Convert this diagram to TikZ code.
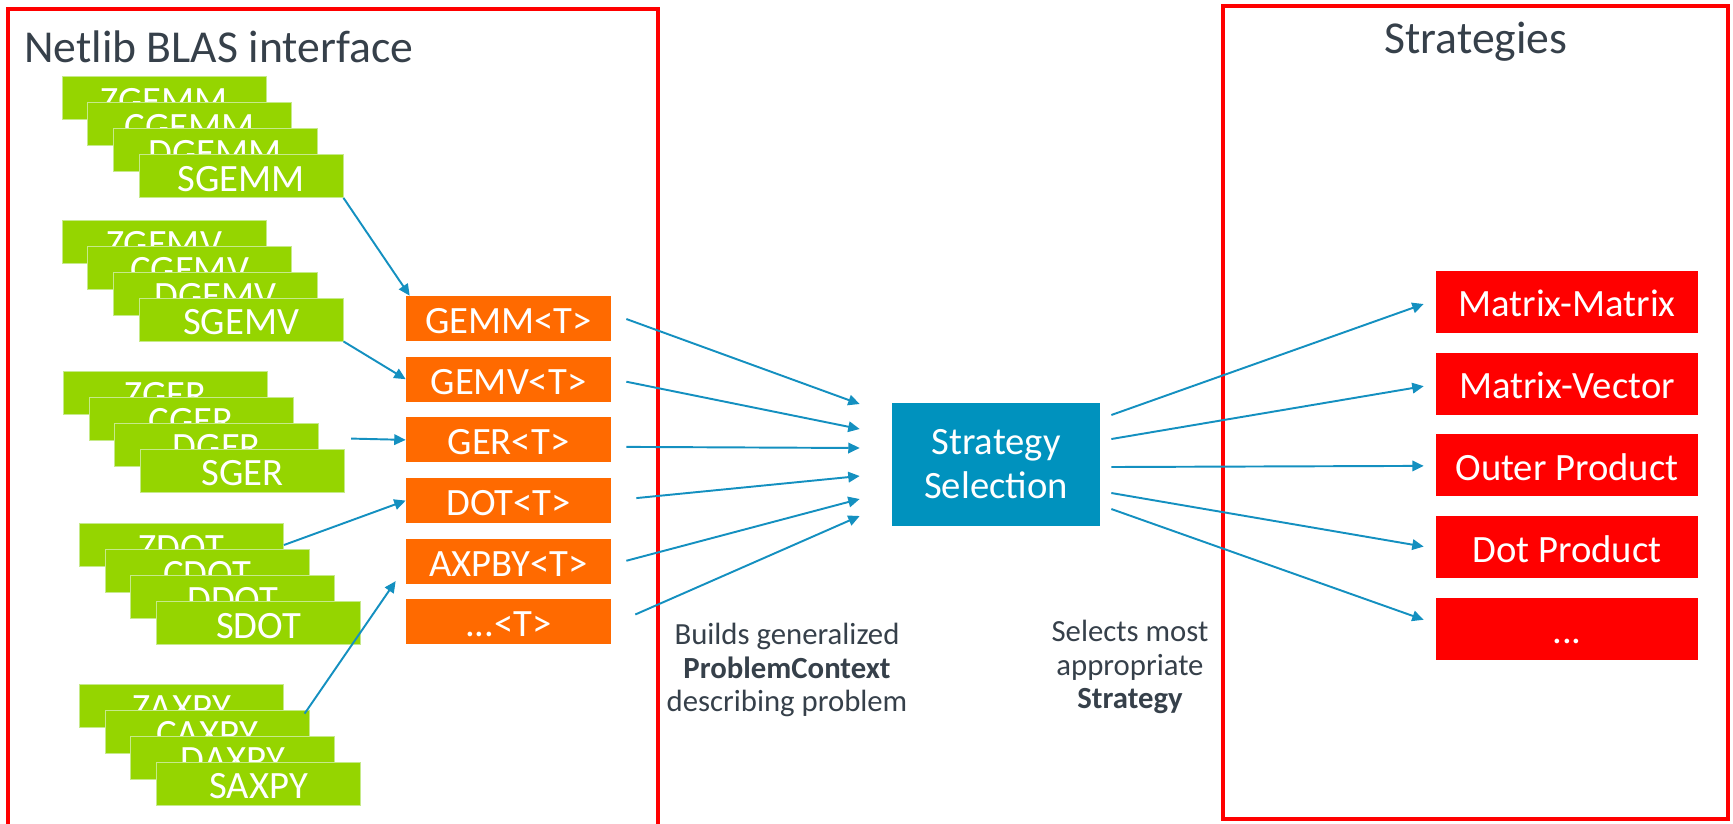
\documentclass[tikz,border=0pt]{standalone}
\usepackage{fontspec}
\setmainfont{Carlito}
\usetikzlibrary{positioning,calc,arrows.meta}
\definecolor{blasgreen}{HTML}{95D500}
\definecolor{blasedge}{HTML}{C6EA8A}
\definecolor{tmplorange}{HTML}{FF6A00}
\definecolor{selblue}{HTML}{0092BE}
\definecolor{stratred}{HTML}{FF0000}
\definecolor{flowblue}{HTML}{1490C0}
\definecolor{textgray}{HTML}{36404A}
\tikzset{blas/.style={rectangle,fill=blasgreen,draw=blasedge,line width=0.5pt,text=white,minimum width=4.08cm,minimum height=0.86cm,inner sep=0pt,text height=17.5pt,text depth=0pt,font=\fontsize{22}{26}\selectfont}}
\tikzset{tmpl/.style={rectangle,fill=tmplorange,text=white,minimum width=4.1cm,minimum height=0.9cm,inner sep=0pt,text height=17pt,text depth=0pt,font=\fontsize{22}{26}\selectfont}}
\tikzset{selbox/.style={rectangle,fill=selblue,text=white,minimum width=4.16cm,minimum height=2.46cm,align=center,font=\fontsize{22}{25.5}\selectfont}}
\tikzset{strat/.style={rectangle,fill=stratred,text=white,minimum width=5.24cm,minimum height=1.24cm,inner sep=0pt,text height=17pt,text depth=0pt,font=\fontsize{22}{26}\selectfont}}
\tikzset{groupframe/.style={draw=stratred,line width=2.3pt}}
\tikzset{flow/.style={draw=flowblue,line width=1.1pt,-{Triangle[length=6.5pt,width=6pt]}}}
\tikzset{note/.style={text=textgray,align=center,font=\fontsize{17.5}{19}\selectfont}}

\begin{document}
\begin{tikzpicture}[x=0.02cm,y=-0.02cm]
                \useasboundingbox (0,0) rectangle (1733,823);
                \draw[groupframe] (8,9) rectangle (658,840);
                \draw[groupframe] (1223,6) rectangle (1728,819);
                \node[anchor=base west,inner sep=0pt,text=textgray,font=\fontsize{26}{31}\selectfont] (blastitle) at (24,62) {Netlib BLAS interface};
                \node[anchor=base,inner sep=0pt,text=textgray,font=\fontsize{26}{31}\selectfont] (strattitle) at (1476,53) {Strategies};

                % netlib routines, stacked per precision
                \foreach \op/\bx/\by in {GEMM/164/98,GEMV/164/241.5,GER/165.5/392.5,DOT/181.5/545,AXPY/181.5/705.5}{\foreach \p [count=\i from 0] in {Z,C,D,S}\node[blas] (\p\op) at (\bx+\i*25.7,\by+\i*26){\p\op};}

                % generic templates
                \node[tmpl] (gemm) at (508.5,318.5) {GEMM<T>};
                \node[tmpl,below=0.3cm of gemm] (gemv) {GEMV<T>};
                \node[tmpl,below=0.3cm of gemv] (ger) {GER<T>};
                \node[tmpl,below=0.3cm of ger] (dot) {DOT<T>};
                \node[tmpl,below=0.3cm of dot] (axpby) {AXPBY<T>};
                \node[tmpl,below=0.3cm of axpby] (etc) {...<T>};

                \node[selbox] (sel) at (996,464) {Strategy\\Selection};

                % strategies
                \node[strat] (mm) at (1567,302) {Matrix-Matrix};
                \node[strat,below=0.38cm of mm] (mv) {Matrix-Vector};
                \node[strat,below=0.38cm of mv] (op) {Outer Product};
                \node[strat,below=0.38cm of op] (dp) {Dot Product};
                \node[strat,below=0.38cm of dp] (more) {...};

                \draw[flow] (SGEMM.south east) -- ($(gemm.north west)+(4,0)$);
                \draw[flow] (SGEMV.south east) -- (gemv.west);
                \draw[flow] ($(SGER.north east)+(6,-10)$) -- (ger.west);
                \draw[flow] (ZDOT.east) -- (dot.west);
                \draw[flow] ($(CAXPY.north east)+(-5,4)$) -- ($(axpby.south west)+(-10,-3)$);

                \draw[flow] ($(gemm.east)+(15,0.5)$) -- ($(sel.west)+(-32,-60)$);
                \draw[flow] ($(gemv.east)+(15,2.5)$) -- ($(sel.west)+(-32,-35)$);
                \draw[flow] ($(ger.east)+(15,7)$) -- ($(sel.west)+(-32,-16)$);
                \draw[flow] ($(dot.east)+(25,-2.5)$) -- ($(sel.west)+(-32,12)$);
                \draw[flow] ($(axpby.east)+(15,-0.5)$) -- ($(sel.west)+(-32,35)$);
                \draw[flow] ($(etc.east)+(24,-7.5)$) -- ($(sel.west)+(-32,52)$);

                \draw[flow] ($(sel.east)+(11,-49)$) -- ($(mm.west)+(-12,2)$);
                \draw[flow] ($(sel.east)+(11,-25)$) -- ($(mv.west)+(-12,2.5)$);
                \draw[flow] ($(sel.east)+(11,3)$) -- ($(op.west)+(-12,0.5)$);
                \draw[flow] ($(sel.east)+(11,29)$) -- ($(dp.west)+(-12,-0.5)$);
                \draw[flow] ($(sel.east)+(11,45)$) -- ($(more.west)+(-12,-9)$);

                \node[note] (buildnote) at (787,670) {Builds generalized\\\textbf{ProblemContext}\\describing problem};
                \node[note] (selectnote) at (1130,667) {Selects most\\appropriate\\\textbf{Strategy}};
            \end{tikzpicture}
\end{document}
